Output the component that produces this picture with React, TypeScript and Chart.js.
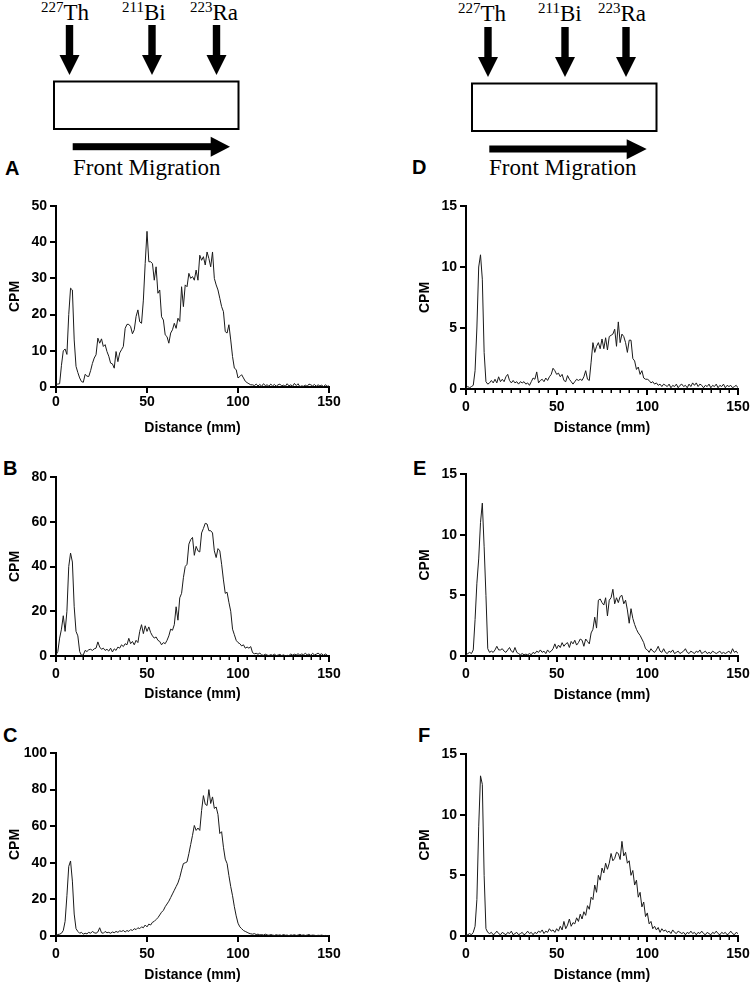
import React, { useEffect, useRef } from "react";
import { Chart, registerables } from "chart.js";

Chart.register(...registerables);

// ---------- DATA ----------
const distanceMm = [
  0, 1, 2, 3, 4, 5, 6, 7, 8, 9, 10, 11, 12, 13, 14, 15, 16, 17, 18, 19, 20, 21, 22, 23, 24, 25, 26, 27, 28, 29,
  30, 31, 32, 33, 34, 35, 36, 37, 38, 39, 40, 41, 42, 43, 44, 45, 46, 47, 48, 49, 50, 51, 52, 53, 54, 55, 56, 57, 58, 59,
  60, 61, 62, 63, 64, 65, 66, 67, 68, 69, 70, 71, 72, 73, 74, 75, 76, 77, 78, 79, 80, 81, 82, 83, 84, 85, 86, 87, 88, 89,
  90, 91, 92, 93, 94, 95, 96, 97, 98, 99, 100, 101, 102, 103, 104, 105, 106, 107, 108, 109, 110, 111, 112, 113, 114, 115, 116, 117, 118, 119,
  120, 121, 122, 123, 124, 125, 126, 127, 128, 129, 130, 131, 132, 133, 134, 135, 136, 137, 138, 139, 140, 141, 142, 143, 144, 145, 146, 147, 148, 149, 150,
];

const cpmA = [
  0.8, 0.8, 0.9, 6, 10, 10.5, 9, 20, 27.3, 26.8, 13, 5.7, 4, 2.5, 1.5, 1.3, 3.5, 3, 2.9, 4.5,
  6.5, 8, 8.9, 13.5, 12.1, 13.3, 11.2, 11.7, 9.8, 8.5, 6.6, 6.4, 5.2, 9.8, 7, 9.4, 10.3, 11.2, 16.2, 17.3,
  17.3, 16.7, 14.7, 15.8, 19.5, 21.3, 18, 17.6, 24, 34.1, 43, 34.6, 34.6, 34.1, 29.5, 33.2, 25.9, 26.8, 19.4, 18.5,
  14.4, 13.9, 12.1, 14.9, 15.8, 17.6, 16.2, 19, 18.1, 27.7, 22.2, 28.2, 27.7, 31.4, 30, 30.5, 29.5, 32.3, 29.5, 36.4,
  35, 36, 33.7, 37.3, 35.5, 33.2, 37.3, 30, 28.2, 26.8, 24.5, 22.2, 20.8, 15.3, 14.9, 17.2, 13, 8.4, 5.2, 4.8,
  2.5, 2.9, 3.4, 2.5, 1.6, 1.2, 0.9, 0.6, 0.6, 0.4, 0.8, 0.3, 0.7, 0.2, 0.9, 0.4, 0.6, 0.2, 0.8, 0.3,
  0.7, 0.2, 0.6, 0.8, 0.3, 0.5, 0.2, 0.9, 0.3, 0.6, 0.2, 1.0, 0.4, 0.9, 0.1, 0.3, 0.2, 0.5, 0.2, 0.8,
  0.6, 0.3, 0.7, 0.2, 0.6, 0.3, 0.5, 0.1, 0.6, 0.2, 0.3,
];

const cpmB = [
  0.5, 2, 8, 12, 18, 11, 20, 40, 46, 42, 22, 11, 9, 2, 0.3, 0.5, 2.5, 2, 2.8, 3,
  2.5, 3.2, 3.5, 6.3, 4, 3, 3.5, 2.5, 3, 2.2, 3.5, 1.8, 3.2, 2.5, 4, 3.5, 5, 4.2, 5.5, 5,
  7.9, 5.5, 6.5, 5, 7, 6, 11, 14, 10, 13.5, 11, 13, 10.5, 9, 8, 8.5, 7, 6.5, 5, 6,
  5.5, 7, 9, 12, 11.5, 14, 22, 16, 26, 28, 35, 40, 41, 50, 52, 53, 45, 49, 47, 46.5,
  55, 57, 59.3, 59, 56, 56, 55, 47, 44, 48, 47, 41, 34, 28, 28.5, 24, 20, 12, 9.5, 7,
  6, 5.5, 4.5, 5, 3.5, 4, 3.5, 4.2, 1.5, 1, 1.2, 0.8, 1.3, 0.5, 0.3, 0.8, 0.4, 0.2, 0.6, 0.3,
  0.8, 0.2, 0.4, 0.7, 0.2, 0.5, 0.1, 0.3, 0.2, 0.9, 0.4, 0.8, 0.5, 1, 0.4, 0.9, 0.6, 1.2, 0.5, 0.9,
  0.3, 1.2, 0.5, 0.8, 1.3, 0.6, 1, 0.3, 0.9, 0.4,
];

const cpmC = [
  0.5, 0.8, 1, 1.5, 3, 8, 22, 38, 41, 30, 12, 4, 2.5, 1.5, 2, 1, 1.5, 1.2, 2, 1.5,
  2.5, 1.8, 1.5, 2.2, 4.5, 1.8, 1.5, 2.5, 1.8, 2, 1.5, 2.2, 1.8, 2.5, 2, 2.8, 2.5, 3, 2.2, 3,
  2.5, 3.5, 3, 4, 3.5, 4.5, 4, 5, 4.5, 6, 5, 6.5, 6, 7.5, 8, 9, 10, 11.5, 13, 14,
  16, 17.5, 19, 21, 23, 25, 27, 29, 32, 36, 39.6, 40, 40.5, 45, 50, 55, 60.4, 57.7, 59, 57.7,
  68.6, 76.7, 72, 71.3, 80, 72.4, 76, 69.7, 70.5, 66.4, 56, 57, 48.5, 42, 39.6, 33, 27, 22, 16, 11,
  7, 5, 4, 3, 2.5, 2, 1.5, 1.2, 1, 1.3, 0.8, 1, 0.6, 0.8, 0.5, 1, 0.6, 0.4, 0.8, 0.5,
  0.3, 0.7, 0.4, 0.6, 0.3, 0.8, 0.4, 0.5, 0.2, 0.6, 0.4, 0.7, 0.3, 0.5, 0.9, 0.4, 0.6, 0.3, 0.5, 0.8,
  0.3, 0.5, 0.4, 0.2, 0.4, 0.3, 0.5, 0.2, 0.3, 0.2, 0.3,
];

const cpmD = [
  0.1, 0.2, 0.1, 0.2, 0.3, 1.5, 5, 10, 11, 9, 3, 0.6, 0.4, 0.5, 0.7, 0.5, 0.8, 0.5, 1.0, 0.6,
  0.8, 0.6, 1.0, 1.2, 0.7, 0.5, 0.7, 0.5, 0.6, 0.4, 0.6, 0.5, 0.6, 0.4, 0.5, 0.3, 0.6, 0.9, 0.8, 1.4,
  0.5, 0.7, 0.8, 0.6, 0.9, 0.7, 1.0, 1.2, 1.7, 1.5, 1.2, 1.3, 1.0, 1.2, 0.7, 0.6, 1.1, 0.8, 0.6, 0.4,
  0.6, 0.8, 0.7, 0.8, 0.7, 1.0, 1.5, 0.8, 0.7, 2.2, 3.8, 3.0, 3.5, 3.8, 3.3, 4.1, 3.3, 4.2, 3.2, 4.3,
  4.4, 4.5, 4.9, 3.5, 5.5, 3.8, 4.5, 4.3, 3.8, 3.0, 4.0, 4.0, 2.5, 2.3, 1.6, 1.8, 1.2, 1.5, 0.9, 0.8,
  0.8, 0.7, 0.5, 0.6, 0.4, 0.5, 0.3, 0.4, 0.2, 0.4, 0.3, 0.2, 0.4, 0.1, 0.3, 0.2, 0.4, 0.1, 0.3, 0.4,
  0.2, 0.3, 0.1, 0.4, 0.2, 0.5, 0.3, 0.5, 0.2, 0.4, 0.3, 0.1, 0.3, 0.2, 0.4, 0.1, 0.3, 0.2, 0.4, 0.1,
  0.3, 0.2, 0.4, 0.1, 0.3, 0.2, 0.3, 0.1, 0.2, 0.3, 0.1,
];

const cpmE = [
  0.1, 0.2, 0.3, 0.2, 0.5, 3, 6, 8, 11, 12.6, 9, 5, 0.6, 0.3, 0.4, 0.3, 0.5, 0.8, 0.5, 0.5,
  0.6, 0.4, 0.3, 0.5, 0.7, 0.4, 0.3, 0.7, 0.3, 0.2, 0.1, 0.2, 0.1, 0.15, 0.1, 0.2, 0.1, 0.3, 0.2, 0.4,
  0.3, 0.5, 0.3, 0.4, 0.2, 0.5, 0.3, 0.4, 0.6, 1.0, 0.6, 0.9, 0.7, 1.1, 0.8, 1.0, 1.1, 0.7, 1.2, 1.0,
  1.3, 0.9, 1.1, 1.4, 1.3, 0.8, 1.4, 1.2, 1.0, 1.9, 2.2, 3.2, 2.3, 4.6, 4.7, 4.4, 4.2, 4.8, 3.3, 4.6,
  4.8, 5.5, 4.3, 4.8, 4.4, 4.9, 5.0, 4.3, 4.6, 3.8, 2.7, 3.9, 3.1, 2.6, 2.2, 1.9, 1.7, 1.4, 1.1, 0.6,
  0.5, 0.3, 0.6, 0.4, 0.3, 0.5, 0.8, 0.4, 0.3, 0.6, 0.3, 0.2, 0.4, 0.3, 0.5, 0.2, 0.3, 0.4, 0.2, 0.3,
  0.4, 0.6, 0.3, 0.2, 0.4, 0.3, 0.2, 0.4, 0.3, 0.5, 0.2, 0.3, 0.4, 0.2, 0.3, 0.2, 0.4, 0.3, 0.2, 0.3,
  0.4, 0.2, 0.3, 0.2, 0.3, 0.4, 0.2, 0.6, 0.3, 0.4, 0.2,
];

const cpmF = [
  0.1, 0.1, 0.2, 0.1, 0.3, 0.8, 3, 9, 13.2, 12.5, 5, 0.6, 0.3, 0.2, 0.3, 0.1, 0.2, 0.4, 0.2, 0.1,
  0.3, 0.2, 0.1, 0.3, 0.2, 0.4, 0.1, 0.2, 0.3, 0.1, 0.2, 0.3, 0.1, 0.2, 0.4, 0.2, 0.3, 0.1, 0.3, 0.2,
  0.4, 0.3, 0.5, 0.2, 0.4, 0.3, 0.6, 0.4, 0.5, 0.3, 0.6, 0.4, 0.8, 0.5, 1.2, 0.6, 0.9, 1.4, 0.8, 1.1,
  1.0, 1.5, 1.2, 1.8, 1.4, 2.0, 1.7, 2.5, 2.2, 3.2, 3.0, 4.2, 3.6, 5.0, 4.6, 5.6, 5.2, 6.0, 5.5, 6.0,
  6.8, 6.2, 6.4, 6.9, 6.8, 6.3, 7.8, 6.6, 6.9, 6.0, 6.2, 5.0, 5.4, 4.2, 4.6, 3.2, 3.6, 2.4, 2.8, 1.6,
  1.9, 1.0, 1.2, 0.6, 0.8, 0.5, 0.7, 0.3, 0.6, 0.4, 0.5, 0.3, 0.4, 0.2, 0.5, 0.3, 0.2, 0.4, 0.3, 0.2,
  0.3, 0.1, 0.3, 0.2, 0.4, 0.2, 0.3, 0.1, 0.3, 0.2, 0.4, 0.2, 0.1, 0.3, 0.2, 0.1, 0.3, 0.2, 0.4, 0.2,
  0.1, 0.3, 0.2, 0.3, 0.1, 0.2, 0.4, 0.2, 0.1, 0.3, 0.2,
];

const xTickStep = 50;
const xMax = 150;
const yMaxA = 50, yStepA = 10;
const yMaxB = 80, yStepB = 20;
const yMaxC = 100, yStepC = 20;
const yMaxDEF = 15, yStepDEF = 5;
const xTitle = "Distance (mm)";
const yTitle = "CPM";

// ---------- PLUGIN: minor x ticks ----------
const minorTicksPlugin = {
  id: "minorTicks",
  afterDraw(chart: any, _args: any, opts: any) {
    if (!opts || !opts.enabled) return;
    const xs = chart.scales.x;
    const ctx = chart.ctx;
    const bottom = chart.chartArea.bottom;
    ctx.save();
    ctx.strokeStyle = "#000";
    ctx.lineWidth = 1.5;
    for (let v = opts.step; v < xs.max; v += opts.step) {
      if (v % xTickStep === 0) continue;
      const px = Math.round(xs.getPixelForValue(v)) + 0.25;
      ctx.beginPath();
      ctx.moveTo(px, bottom);
      ctx.lineTo(px, bottom + opts.length);
      ctx.stroke();
    }
    ctx.restore();
  },
};

type PanelProps = {
  values: number[];
  yMax: number;
  yStep: number;
  left: number;
  top: number;
  width: number;
  height: number;
  padRight: number;
  titlePadBottom: number;
  xLabelPad: number;
  minor: boolean;
};

function Panel(p: PanelProps) {
  const ref = useRef<HTMLCanvasElement | null>(null);
  useEffect(() => {
    if (!ref.current) return;
    const tickFont = { family: "'Liberation Sans', Arial, sans-serif", weight: "bold" as const, size: 14 };
    const titleFont = { family: "'Liberation Sans', Arial, sans-serif", weight: "bold" as const, size: 14 };
    const chart = new Chart(ref.current, {
      type: "line",
      data: {
        datasets: [
          {
            data: distanceMm.map((x, i) => ({ x, y: p.values[i] })),
            borderColor: "#1a1a1a",
            borderWidth: 1,
            pointRadius: 0,
            tension: 0,
            fill: false,
          },
        ],
      },
      options: {
        animation: false,
        responsive: false,
        maintainAspectRatio: false,
        events: [],
        layout: { padding: { left: 0, right: p.padRight, top: 12, bottom: 0 } },
        plugins: {
          legend: { display: false },
          tooltip: { enabled: false },
          minorTicks: { enabled: p.minor, step: 5, length: 4 },
        } as any,
        scales: {
          x: {
            type: "linear",
            min: 0,
            max: xMax,
            ticks: { stepSize: xTickStep, font: tickFont, color: "#000", padding: p.xLabelPad, maxRotation: 0 },
            grid: { display: true, drawOnChartArea: false, drawTicks: true, tickLength: 6, color: "#000", lineWidth: 2 },
            border: { display: true, color: "#000", width: 2 },
            title: { display: true, text: xTitle, font: titleFont, color: "#000", padding: { top: 0, bottom: p.titlePadBottom } },
            afterFit: (scale: any) => {
              scale.height = 50;
              scale.paddingLeft = 0;
              scale.paddingRight = 0;
            },
          },
          y: {
            type: "linear",
            min: 0,
            max: p.yMax,
            ticks: { stepSize: p.yStep, font: tickFont, color: "#000", padding: 3 },
            grid: { display: true, drawOnChartArea: false, drawTicks: true, tickLength: 6, color: "#000", lineWidth: 2 },
            border: { display: true, color: "#000", width: 2 },
            title: { display: true, text: yTitle, font: titleFont, color: "#000", padding: { top: 7, bottom: 0 } },
            afterFit: (scale: any) => {
              scale.width = 56;
              scale.paddingTop = 0;
              scale.paddingBottom = 0;
            },
          },
        },
      },
      plugins: [minorTicksPlugin],
    } as any);
    return () => chart.destroy();
  }, []);
  return (
    <canvas
      ref={ref}
      width={p.width}
      height={p.height}
      style={{ position: "absolute", left: p.left, top: p.top, width: p.width, height: p.height, display: "block" }}
    />
  );
}

const serif = "'Liberation Serif', 'Times New Roman', serif";

function DownArrow({ cx, top, headStart, tip }: { cx: number; top: number; headStart: number; tip: number }) {
  return (
    <g fill="#000">
      <rect x={cx - 3.7} y={top} width={7.4} height={headStart - top + 1} />
      <polygon points={`${cx - 10},${headStart} ${cx + 10},${headStart} ${cx},${tip}`} />
    </g>
  );
}

function Diagram({ dx, dy, th, bi, ra }: { dx: number; dy: number; th: number; bi: number; ra: number }) {
  return null;
}

function Label({ x, y, children }: { x: number; y: number; children: React.ReactNode }) {
  return (
    <text x={x} y={y} fontFamily="'Liberation Sans', Arial, sans-serif" fontWeight="bold" fontSize={20} fill="#000">
      {children}
    </text>
  );
}

function Isotope({ x, y, mass, sym }: { x: number; y: number; mass: string; sym: string }) {
  return (
    <text x={x} y={y} fontFamily={serif} fill="#000">
      <tspan fontSize={15} dy={-8}>{mass}</tspan>
      <tspan fontSize={23} dy={8}>{sym}</tspan>
    </text>
  );
}

export default function App() {
  return (
    <div style={{ position: "absolute", left: 0, top: 0, width: 752, height: 986, background: "#fff", overflow: "hidden" }}>
      <svg width={752} height={986} style={{ position: "absolute", left: 0, top: 0 }}>
        {/* left diagram */}
        <Isotope x={41} y={20} mass="227" sym="Th" />
        <Isotope x={122} y={20} mass="211" sym="Bi" />
        <Isotope x={190} y={20} mass="223" sym="Ra" />
        <DownArrow cx={69.5} top={25} headStart={55} tip={75} />
        <DownArrow cx={152} top={25} headStart={55} tip={75} />
        <DownArrow cx={216.5} top={25} headStart={55} tip={75} />
        <rect x={54} y={81.5} width={184.5} height={47.5} fill="none" stroke="#000" strokeWidth={2} />
        <rect x={72.7} y={143.2} width={139} height={7} fill="#000" />
        <polygon points="210.7,136.7 210.7,156.7 230,146.7" fill="#000" />
        <text x={73} y={175} fontFamily={serif} fontSize={23} fill="#000">Front Migration</text>

        {/* right diagram */}
        <Isotope x={458} y={20.5} mass="227" sym="Th" />
        <Isotope x={538} y={20.5} mass="211" sym="Bi" />
        <Isotope x={598} y={20.5} mass="223" sym="Ra" />
        <DownArrow cx={488} top={27} headStart={57} tip={77} />
        <DownArrow cx={565} top={27} headStart={57} tip={77} />
        <DownArrow cx={626} top={27} headStart={57} tip={77} />
        <rect x={472} y={83.5} width={184.5} height={47.5} fill="none" stroke="#000" strokeWidth={2} />
        <rect x={489.3} y={145.5} width={138} height={7} fill="#000" />
        <polygon points="626.7,139.3 626.7,159.3 646.7,149" fill="#000" />
        <text x={489} y={175} fontFamily={serif} fontSize={23} fill="#000">Front Migration</text>

        <Label x={5} y={175}>A</Label>
        <Label x={3} y={475}>B</Label>
        <Label x={3} y={742}>C</Label>
        <Label x={412} y={174}>D</Label>
        <Label x={413} y={475}>E</Label>
        <Label x={418} y={742}>F</Label>
      </svg>

      <Panel values={cpmA} yMax={yMaxA} yStep={yStepA} left={0} top={194} width={345} height={243} padRight={16} titlePadBottom={0} xLabelPad={1} minor={false} />
      <Panel values={cpmB} yMax={yMaxB} yStep={yStepB} left={0} top={465} width={345} height={241} padRight={16} titlePadBottom={3} xLabelPad={4} minor={true} />
      <Panel values={cpmC} yMax={yMaxC} yStep={yStepC} left={0} top={741} width={345} height={245} padRight={16} titlePadBottom={2} xLabelPad={4} minor={false} />
      <Panel values={cpmD} yMax={yMaxDEF} yStep={yStepDEF} left={410} top={194} width={342} height={245} padRight={14} titlePadBottom={2} xLabelPad={4} minor={true} />
      <Panel values={cpmE} yMax={yMaxDEF} yStep={yStepDEF} left={410} top={462} width={342} height={244} padRight={14} titlePadBottom={2} xLabelPad={4} minor={true} />
      <Panel values={cpmF} yMax={yMaxDEF} yStep={yStepDEF} left={410} top={742} width={342} height={244} padRight={14} titlePadBottom={2} xLabelPad={4} minor={true} />
    </div>
  );
}
